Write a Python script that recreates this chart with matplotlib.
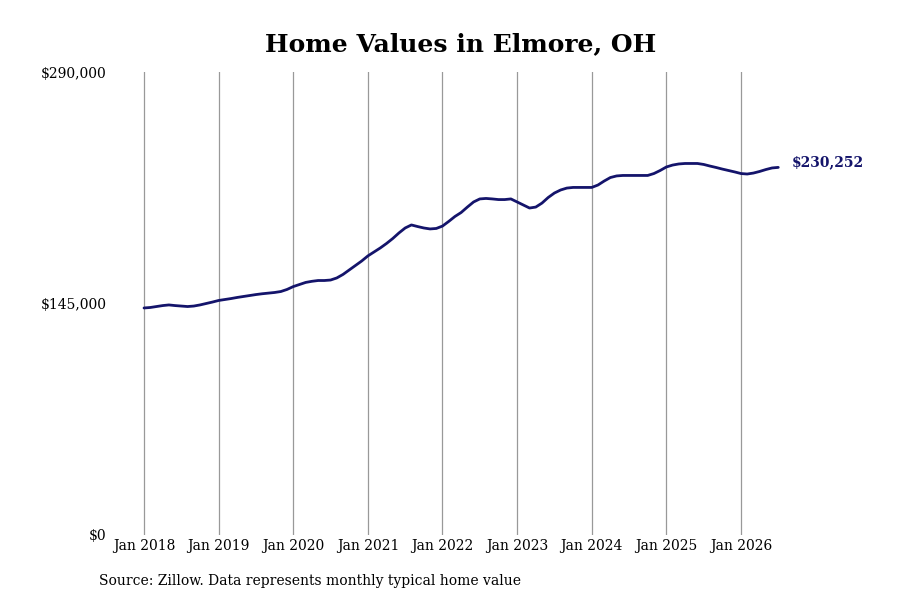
import matplotlib
matplotlib.use("Agg")
import matplotlib.pyplot as plt
import numpy as np

# Monthly typical home values, Jan 2018 onward
values = [
    142200, 142500, 143100, 143700, 144100, 143700, 143400, 143100, 143400, 144100, 145000, 145900,
    146900, 147500, 148100, 148800, 149400, 150000, 150600, 151100, 151500, 151900, 152500, 153800,
    155600, 156900, 158200, 158900, 159400, 159400, 159700, 161000, 163200, 166000, 168800, 171600,
    174800, 177300, 179800, 182600, 185700, 189200, 192300, 194200, 193200, 192300, 191700, 192000,
    193500, 196400, 199500, 202000, 205400, 208600, 210500, 210800, 210500, 210100, 210100, 210500,
    208600, 206700, 204800, 205400, 207900, 211400, 214200, 216100, 217300, 217700, 217700, 217700,
    217700, 219200, 221700, 223900, 224900, 225200, 225200, 225200, 225200, 225200, 226400, 228300,
    230500, 231700, 232400, 232700, 232700, 232700, 232100, 231100, 230200, 229200, 228300, 227400,
    226400, 226100, 226700, 227700, 228900, 229900, 230252,
]
tick_labels = ["Jan 2018", "Jan 2019", "Jan 2020", "Jan 2021", "Jan 2022",
               "Jan 2023", "Jan 2024", "Jan 2025", "Jan 2026"]
y_ticks = [0, 145000, 290000]
y_tick_labels = ["$0", "$145,000", "$290,000"]
end_label = "$230,252"
title = "Home Values in Elmore, OH"
source = "Source: Zillow. Data represents monthly typical home value"

plt.rcParams['font.family'] = ['DejaVu Serif']
navy = "#14146b"

fig = plt.figure(figsize=(9, 6), dpi=100)
ax = fig.add_axes([112/900, 65/600, (782-112)/900, (535-72)/600])

months = np.arange(len(values))
ax.plot(months, values, color=navy, linewidth=2.0, solid_capstyle='round')

ax.set_xlim(-5.15, 102.6)
ax.set_ylim(0, 290000)
ax.set_xticks(np.arange(len(tick_labels)) * 12)
ax.set_xticklabels(tick_labels, fontsize=10)
ax.set_yticks(y_ticks)
ax.set_yticklabels(y_tick_labels, fontsize=10)
ax.tick_params(axis='x', length=0, pad=3)
ax.tick_params(axis='y', length=0, pad=4)
ax.grid(axis='x', color='#999999', linewidth=0.9)
ax.grid(axis='y', visible=False)
ax.set_axisbelow(True)
for s in ax.spines.values():
    s.set_visible(False)

ax.annotate(end_label, xy=(months[-1], values[-1]), xytext=(10, 4),
            textcoords='offset points', va='center', ha='left',
            fontsize=10, fontweight='bold', color=navy)

fig.text(461/900, 1 - 44/600, title, ha='center', va='center',
         fontsize=18, fontweight='bold')
fig.text(99/900, 1 - 581/600, source, ha='left', va='center', fontsize=10)

fig.savefig("out.png", dpi=100, facecolor='white')
